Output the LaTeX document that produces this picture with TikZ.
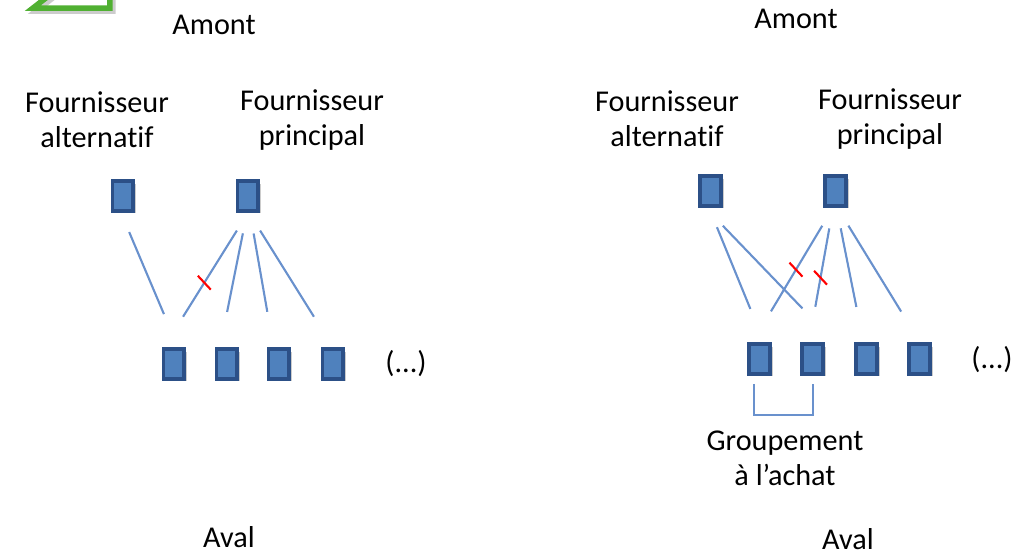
\documentclass[tikz,border=0pt]{standalone}
\usepackage{fontspec}
\setmainfont{Carlito}[Ligatures=NoCommon]
\usetikzlibrary{shadows}
\definecolor{bleufonce}{RGB}{44,80,135}
\definecolor{bleuclair}{RGB}{79,129,189}
\definecolor{trait}{RGB}{105,145,205}
\definecolor{vert}{RGB}{80,176,50}
\tikzset{
  boite/.style={draw=bleufonce, fill=bleuclair, line width=0.4mm, inner sep=0pt,
    minimum width=2.1mm, minimum height=2.95mm,
    drop shadow={shadow xshift=0.25mm, shadow yshift=-0.25mm, fill=black!40, opacity=0.5}},
  lien/.style={draw=trait, line width=0.6pt, shorten <=2.1mm, shorten >=3.6mm},
  coupure/.style={rotate=-47, draw=red, line width=0.6pt, inner sep=0pt,
    minimum width=1.9mm, minimum height=0pt},
  texte/.style={font=\fontsize{8.6}{10}\selectfont, align=center, inner sep=0pt}
}
\begin{document}
\begin{tikzpicture}[x=0.1mm, y=-0.1mm]
  \useasboundingbox (0,0) rectangle (1014,553);
  \begin{scope}
    \clip (0,0) rectangle (1014,553);
    \draw[black!20, line width=0.55mm, xshift=0.3mm, yshift=-0.3mm] (60,-13) -- (33,8) -- (110,8) -- (110,-20);
    \draw[vert, line width=0.55mm] (60,-13) -- (33,8) -- (110,8) -- (110,-20);
  \end{scope}
  % avant le groupement
  \node[texte] (amont1) at (214,25) {Amont};
  \node[texte] (fa1) at (97,120) {Fournisseur\\alternatif};
  \node[texte] (fp1) at (312,120) {Fournisseur\\principal};
  \node[boite] (alt1) at (123,196) {};
  \node[boite] (princ1) at (248,196) {};
  \foreach \x/\n in {174/1,227/2,279/3,333/4}
    \node[boite] (c1\n) at (\x,364) {};
  \node[texte] (suite1) at (406,364) {(...)};
  \node[texte, anchor=base] (aval1) at (229,547) {Aval};
  \draw[lien] ([xshift=-0.2mm]alt1.south) -- ([xshift=0.4mm]c11.north);
  \draw[lien] (princ1.south) -- node[coupure, pos=0.52]{} ([xshift=-1mm]c11.north);
  \draw[lien] ([xshift=-0.1mm]princ1.south) -- ([xshift=-0.7mm]c12.north);
  \draw[lien] ([xshift=0.2mm]princ1.south) -- ([xshift=-0.55mm]c13.north);
  \draw[lien] ([xshift=0.1mm]princ1.south) -- (c14.north);
  % avec le groupement
  \node[texte] (amont2) at (796,19) {Amont};
  \node[texte] (fa2) at (667,119) {Fournisseur\\alternatif};
  \node[texte] (fp2) at (890,119) {Fournisseur\\principal};
  \node[boite] (alt2) at (711,191) {};
  \node[boite] (princ2) at (836,191) {};
  \foreach \x/\n in {760/1,813/2,867/3,920/4}
    \node[boite] (c2\n) at (\x,359) {};
  \node[texte] (suite2) at (992,360) {(...)};
  \node[texte] (grp) at (785,458) {Groupement\\à l’achat};
  \node[texte, anchor=base] (aval2) at (848,549) {Aval};
  \draw[lien] ([xshift=-0.2mm]alt2.south) -- ([xshift=0.4mm]c21.north);
  \draw[lien, shorten <=2.5mm, shorten >=4.7mm] ([xshift=-0.55mm]alt2.south) -- ([xshift=2.2mm]c22.north);
  \draw[lien] ([xshift=-0.3mm]princ2.south) -- node[coupure, pos=0.46]{} ([xshift=-0.75mm]c21.north);
  \draw[lien] ([xshift=-0.3mm]princ2.south) -- node[coupure, pos=0.52]{} ([xshift=-0.4mm]c22.north);
  \draw[lien] ([xshift=0.06mm]princ2.south) -- ([xshift=-0.36mm]c23.north);
  \draw[lien] ([xshift=0.14mm]princ2.south) -- (c24.north);
  \draw[draw=trait, line width=0.6pt] ([xshift=-0.6mm, yshift=-0.8mm]c21.south) -- ++(0,31) -| ([yshift=-0.8mm]c22.south);
\end{tikzpicture}
\end{document}
